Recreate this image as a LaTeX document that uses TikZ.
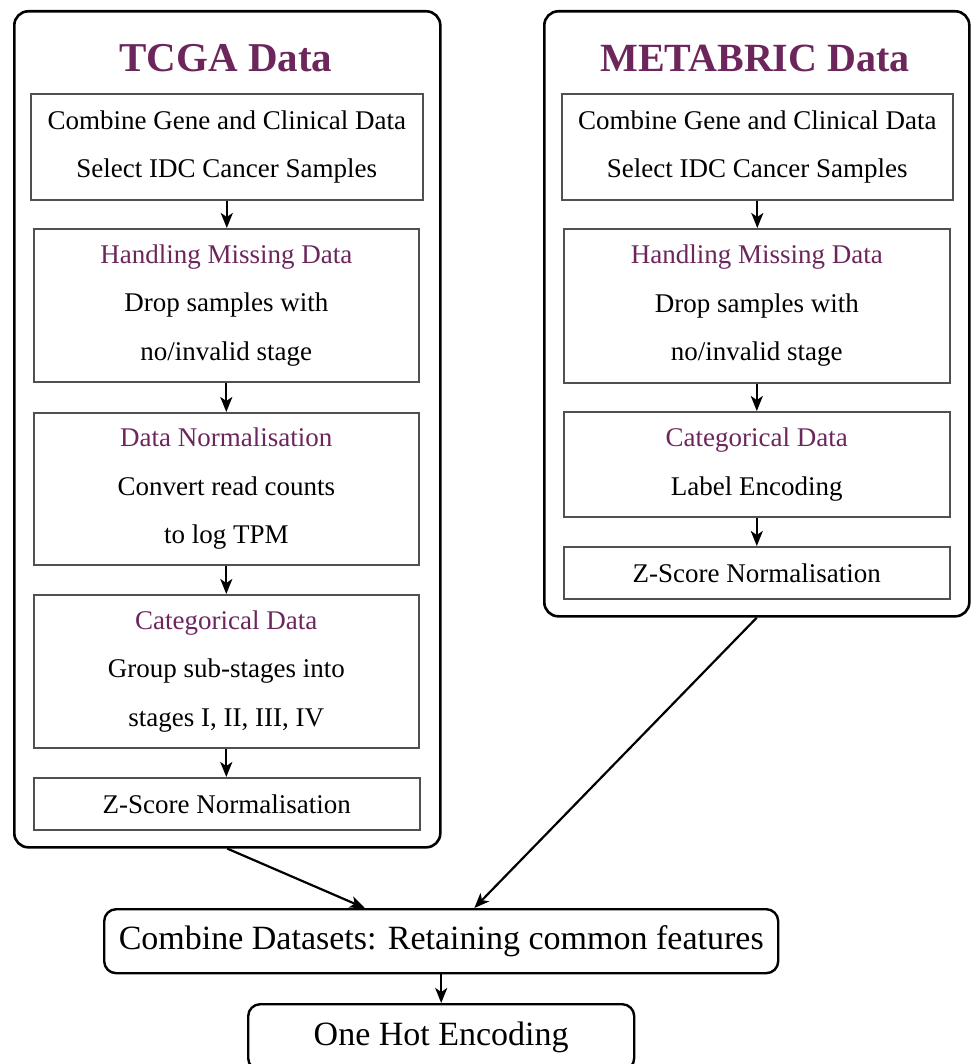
\documentclass[tikz,border=0pt]{standalone}
\usepackage{fontspec}
\setmainfont{Liberation Serif}
\usetikzlibrary{arrows.meta,calc}
\definecolor{plum}{RGB}{108,38,92}
\definecolor{boxline}{RGB}{80,80,80}
\begin{document}
\begin{tikzpicture}[x=1pt,y=-1pt,
  panel/.style={draw=black,line width=2.6pt,rounded corners=14pt,anchor=north west,inner sep=0pt},
  stepbox/.style={draw=boxline,line width=1.6pt,anchor=north west,inner sep=0pt,align=center,
    font=\fontsize{27}{48.5}\selectfont},
  finalbox/.style={draw=black,line width=2.4pt,rounded corners=12pt,anchor=north west,inner sep=0pt,
    font=\fontsize{34}{40}\selectfont},
  heading/.style={anchor=base,text=plum,font=\fontsize{41}{48}\selectfont\bfseries},
  arr/.style={-{Stealth[length=15pt,width=12pt,inset=4pt]},line width=2.2pt}
]
\useasboundingbox (0,0) rectangle (970,1064);

% TCGA column
\node[panel,minimum width=426pt,minimum height=836pt] (tcga) at (13,10) {};
\node[heading] (tcgaT) at (226,72) {TCGA Data};
\node[stepbox,minimum width=392pt,minimum height=106pt] (t1) at (30,93)
  {Combine Gene and Clinical Data\\Select IDC Cancer Samples};
\node[stepbox,minimum width=385pt,minimum height=153pt] (t2) at (33,228)
  {\textcolor{plum}{Handling Missing Data}\\Drop samples with\\no/invalid stage};
\node[stepbox,minimum width=385pt,minimum height=152pt] (t3) at (33,412)
  {\textcolor{plum}{Data Normalisation}\\Convert read counts\\to log TPM};
\node[stepbox,minimum width=385pt,minimum height=153pt] (t4) at (33,594)
  {\textcolor{plum}{Categorical Data}\\Group sub-stages into\\stages I, II, III, IV};
\node[stepbox,minimum width=386pt,minimum height=52pt] (t5) at (33,777)
  {Z-Score Normalisation};

% METABRIC column
\node[panel,minimum width=425pt,minimum height=605pt] (meta) at (543,10) {};
\node[heading,font=\fontsize{40}{48}\selectfont\bfseries] (metaT) at (755,72) {METABRIC Data};
\node[stepbox,minimum width=391pt,minimum height=106pt] (m1) at (561,93)
  {Combine Gene and Clinical Data\\Select IDC Cancer Samples};
\node[stepbox,minimum width=386pt,minimum height=154pt] (m2) at (563,228)
  {\textcolor{plum}{Handling Missing Data}\\Drop samples with\\no/invalid stage};
\node[stepbox,minimum width=386pt,minimum height=105pt] (m3) at (563,411)
  {\textcolor{plum}{Categorical Data}\\Label Encoding};
\node[stepbox,minimum width=386pt,minimum height=52pt] (m4) at (563,546)
  {Z-Score Normalisation};

% merged steps
\node[finalbox,minimum width=674pt,minimum height=64pt] (comb) at (103,908)
  {Combine Datasets: Retaining common features};
\node[finalbox,minimum width=386pt,minimum height=66pt] (hot) at (247,1003)
  {One Hot Encoding};

% connectors
\foreach \a/\b in {t1/t2,t2/t3,t3/t4,t4/t5,m1/m2,m2/m3,m3/m4}
  \draw[arr] (\a.south) -- (\a.south |- \b.north);
\draw[arr] (tcga.south) -- ($(comb.north west)!0.387!(comb.north east)$);
\draw[arr] (meta.south) -- ($(comb.north west)!0.549!(comb.north east)$);
\draw[arr] (comb.south) -- (hot.north);
\end{tikzpicture}
\end{document}
